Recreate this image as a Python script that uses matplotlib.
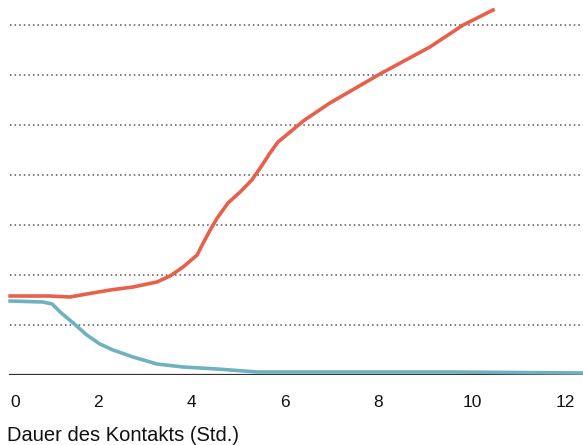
import matplotlib.pyplot as plt
from matplotlib.transforms import ScaledTranslation

# Red curve (steigend)
red_x = [0.12, 0.97, 1.40, 1.76, 2.26, 2.75, 3.26, 3.54, 3.82, 4.12, 4.25, 4.40, 4.55,
         4.78, 5.04, 5.29, 5.47, 5.68, 5.85, 6.11, 6.39, 6.96, 7.33, 8.03, 9.10, 9.81, 10.45]
red_y = [1.57, 1.57, 1.55, 1.61, 1.69, 1.75, 1.85, 1.97, 2.15, 2.39, 2.63, 2.89, 3.13,
         3.43, 3.65, 3.89, 4.13, 4.43, 4.65, 4.85, 5.07, 5.43, 5.63, 6.01, 6.55, 6.99, 7.29]

# Blue curve (fallend)
blue_x = [0.12, 0.82, 1.02, 1.19, 1.47, 1.76, 2.04, 2.32, 2.75, 3.26, 3.82, 4.55,
          5.40, 6.32, 9.53, 12.37]
blue_y = [1.47, 1.45, 1.41, 1.25, 1.03, 0.79, 0.61, 0.49, 0.35, 0.21, 0.15, 0.11,
          0.05, 0.05, 0.05, 0.03]

x_ticks = [0, 2, 4, 6, 8, 10, 12]
grid_levels = [1, 2, 3, 4, 5, 6, 7]

plt.rcParams['font.family'] = ['Liberation Sans', 'DejaVu Sans']

fig = plt.figure(figsize=(5.83, 4.45), dpi=100)
# axes spans x = 0 (px 4.5) .. px 583; grid/baseline start at px 10
ax = fig.add_axes([4.5 / 583, 70.5 / 445, 578.5 / 583, 370 / 445])
x0, x1 = 0, 578.5 / 46.75
start = (10 - 4.5) / 578.5

for g in grid_levels:
    ax.axhline(g, xmin=start, color='#555555', linewidth=1.1, linestyle=(0, (1, 2)), zorder=1)
ax.axhline(0, xmin=start, color='#333333', linewidth=1.6, zorder=2)

ax.plot(blue_x, blue_y, color='#6fb1c0', linewidth=2.6, solid_joinstyle='round', zorder=3)
ax.plot(red_x, red_y, color='#e8604c', linewidth=2.6, solid_joinstyle='round', zorder=4)

ax.set_xlim(x0, x1)
ax.set_ylim(0, 7.4)
ax.set_xticks(x_ticks)
ax.set_xticklabels([str(t) for t in x_ticks], fontsize=12.5, color='#111111')
ax.tick_params(axis='x', length=0, pad=15)
ax.set_yticks([])
for s in ax.spines.values():
    s.set_visible(False)

# first label sits inside the chart edge
lab0 = ax.get_xticklabels()[0]
lab0.set_transform(lab0.get_transform() + ScaledTranslation(11 / 100, 0, fig.dpi_scale_trans))

fig.text(7 / 583, (445 - 441) / 445, 'Dauer des Kontakts (Std.)', fontsize=14.5,
         color='#111111', ha='left', va='baseline')

fig.savefig('out.png', dpi=100)
